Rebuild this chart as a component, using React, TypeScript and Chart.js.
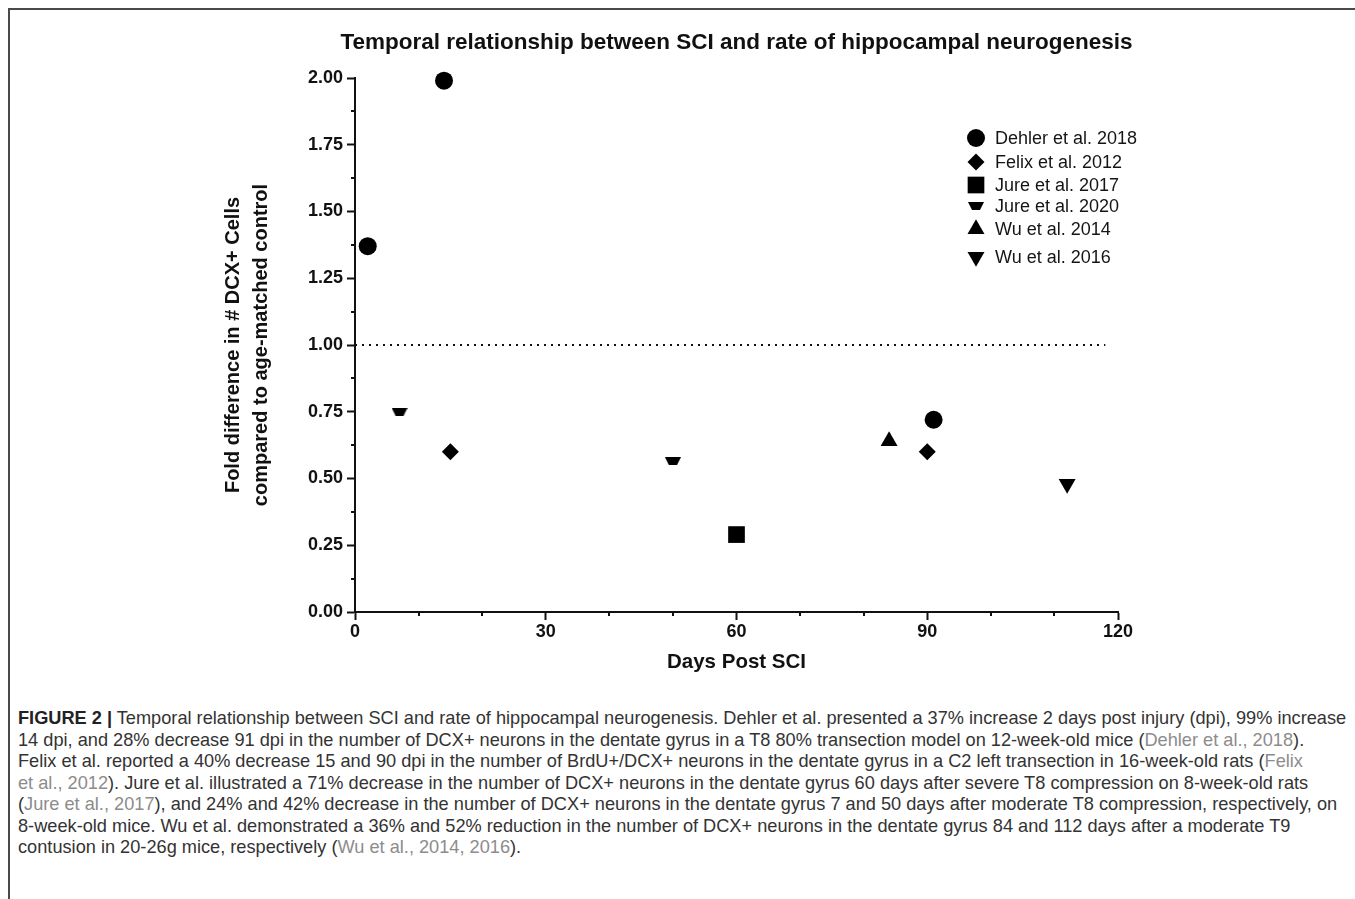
import React, { useEffect, useRef } from 'react';
import { Chart, registerables } from 'chart.js';
import { drawPoint } from 'chart.js/helpers';

Chart.register(...registerables);

const FONT = '"Liberation Sans", Arial, Helvetica, sans-serif';

const chartTitle = 'Temporal relationship between SCI and rate of hippocampal neurogenesis';
const xAxisTitle = 'Days Post SCI';
const yAxisTitle = ['Fold difference in # DCX+ Cells', 'compared to age-matched control'];

const xMajorTicks = [0, 30, 60, 90, 120];
const xMinorTicks = [10, 20, 40, 50, 70, 80, 100, 110];
const yMajorTicks = [0, 0.25, 0.5, 0.75, 1, 1.25, 1.5, 1.75, 2];
const yMinorTicks = [0.125, 0.375, 0.625, 0.875, 1.125, 1.375, 1.625, 1.875];

const seriesLabels = [
  'Dehler et al. 2018',
  'Felix et al. 2012',
  'Jure et al. 2017',
  'Jure et al. 2020',
  'Wu et al. 2014',
  'Wu et al. 2016',
];

const dehler2018Days = [2, 14, 91];
const dehler2018Fold = [1.37, 1.99, 0.72];
const felix2012Days = [15, 90];
const felix2012Fold = [0.6, 0.6];
const jure2017Days = [60];
const jure2017Fold = [0.29];
const jure2020Days = [7, 50];
const jure2020Fold = [0.75, 0.565];
const wu2014Days = [84];
const wu2014Fold = [0.64];
const wu2016Days = [112];
const wu2016Fold = [0.48];

const baselineDays = [0, 118];
const baselineFold = [1, 1];

const toPoints = (xs: number[], ys: number[]) => xs.map((x, i) => ({ x, y: ys[i] }));

function makeTrapezoid(): HTMLCanvasElement {
  const c = document.createElement('canvas');
  c.width = 16;
  c.height = 8;
  const g = c.getContext('2d')!;
  g.fillStyle = '#000';
  g.beginPath();
  g.moveTo(0, 0);
  g.lineTo(16, 0);
  g.lineTo(12, 8);
  g.lineTo(4, 8);
  g.closePath();
  g.fill();
  return c;
}

const minorTicksPlugin = {
  id: 'minorTicks',
  afterDraw(chart: any) {
    const { ctx, chartArea } = chart;
    const x = chart.scales.x;
    const y = chart.scales.y;
    ctx.save();
    ctx.strokeStyle = '#111';
    ctx.lineWidth = 2;
    ctx.beginPath();
    xMinorTicks.forEach((v) => {
      const px = Math.round(x.getPixelForValue(v));
      ctx.moveTo(px, chartArea.bottom);
      ctx.lineTo(px, chartArea.bottom + 4);
    });
    yMinorTicks.forEach((v) => {
      const py = Math.round(y.getPixelForValue(v));
      ctx.moveTo(chartArea.left, py);
      ctx.lineTo(chartArea.left - 4, py);
    });
    ctx.stroke();
    ctx.restore();
  },
};

const legendPlugin = {
  id: 'insetLegend',
  afterDraw(chart: any) {
    const { ctx } = chart;
    const rowY = [138, 162, 185, 206, 229, 257];
    const markerX = 976;
    const textX = 995;
    ctx.save();
    chart.data.datasets.forEach((ds: any, i: number) => {
      if (!seriesLabels.includes(ds.label)) return;
      const y = rowY[i];
      ctx.fillStyle = '#000';
      ctx.strokeStyle = '#000';
      drawPoint(
        ctx,
        { pointStyle: ds.pointStyle, radius: ds.pointRadius, rotation: ds.pointRotation || 0, borderWidth: 0 } as any,
        markerX,
        y
      );
      ctx.fillStyle = '#151515';
      ctx.font = `18px ${FONT}`;
      ctx.textAlign = 'left';
      ctx.textBaseline = 'middle';
      ctx.fillText(ds.label, textX, y + 1);
    });
    ctx.restore();
  },
};

function ScatterChart() {
  const ref = useRef<HTMLCanvasElement | null>(null);
  useEffect(() => {
    if (!ref.current) return;
    const trapezoid = makeTrapezoid();
    const common = { backgroundColor: '#000', borderColor: '#000', borderWidth: 0, clip: false as any };
    const chart = new Chart(ref.current, {
      type: 'scatter',
      data: {
        datasets: [
          { ...common, label: seriesLabels[0], data: toPoints(dehler2018Days, dehler2018Fold), pointStyle: 'circle', pointRadius: 9 },
          { ...common, label: seriesLabels[1], data: toPoints(felix2012Days, felix2012Fold), pointStyle: 'rectRot', pointRadius: 8.5 },
          { ...common, label: seriesLabels[2], data: toPoints(jure2017Days, jure2017Fold), pointStyle: 'rect', pointRadius: 11.8 },
          { ...common, label: seriesLabels[3], data: toPoints(jure2020Days, jure2020Fold), pointStyle: trapezoid as any, pointRadius: 8 },
          { ...common, label: seriesLabels[4], data: toPoints(wu2014Days, wu2014Fold), pointStyle: 'triangle', pointRadius: 9.8 },
          { ...common, label: seriesLabels[5], data: toPoints(wu2016Days, wu2016Fold), pointStyle: 'triangle', pointRadius: 9.8, pointRotation: 180 } as any,
          {
            type: 'line' as any,
            label: 'baseline',
            data: toPoints(baselineDays, baselineFold),
            borderColor: '#111',
            borderWidth: 2,
            borderDash: [2, 5],
            pointRadius: 0,
            showLine: true,
            clip: false as any,
          } as any,
        ],
      },
      options: {
        animation: false,
        responsive: false,
        layout: { padding: { left: 200, right: 82, top: 0, bottom: 0 } },
        plugins: {
          legend: { display: false },
          tooltip: { enabled: false },
          title: {
            display: true,
            text: chartTitle,
            color: '#111',
            font: { family: FONT, size: 22.5, weight: 'bold', lineHeight: 1.2 },
            padding: { top: 29.5, bottom: 21.5 },
          },
        },
        scales: {
          x: {
            type: 'linear',
            min: 0,
            max: 120,
            afterBuildTicks: (s: any) => {
              s.ticks = xMajorTicks.map((v) => ({ value: v }));
            },
            afterFit: (s: any) => {
              s.height = 88;
            },
            ticks: {
              color: '#111',
              font: { family: FONT, size: 18, weight: 'bold' },
              padding: 1,
              maxRotation: 0,
              autoSkip: false,
            },
            grid: { drawOnChartArea: false, drawTicks: true, tickLength: 8, tickWidth: 2, tickColor: '#111' },
            border: { display: true, color: '#111', width: 2 },
            title: {
              display: true,
              text: xAxisTitle,
              color: '#111',
              font: { family: FONT, size: 20.5, weight: 'bold', lineHeight: 1.2 },
              padding: { top: 0, bottom: 25 },
            },
          },
          y: {
            type: 'linear',
            position: 'left',
            min: 0,
            max: 2,
            afterBuildTicks: (s: any) => {
              s.ticks = yMajorTicks.map((v) => ({ value: v }));
            },
            afterFit: (s: any) => {
              s.width = 155;
            },
            ticks: {
              color: '#111',
              font: { family: FONT, size: 18, weight: 'bold' },
              padding: 4,
              callback: (v: any) => Number(v).toFixed(2),
            },
            grid: { drawOnChartArea: false, drawTicks: true, tickLength: 8, tickWidth: 2, tickColor: '#111' },
            border: { display: true, color: '#111', width: 2 },
            title: {
              display: true,
              text: yAxisTitle,
              color: '#111',
              font: { family: FONT, size: 20, weight: 'bold', lineHeight: 1.4 },
              padding: { top: 19, bottom: 0 },
            },
          },
          yRight: {
            type: 'linear',
            position: 'right',
            display: true,
            min: 0,
            max: 2,
            grid: { display: false },
            border: { display: false },
            ticks: { display: false },
            afterFit: (s: any) => {
              s.width = 155;
            },
          },
        },
      } as any,
      plugins: [minorTicksPlugin, legendPlugin],
    });
    return () => chart.destroy();
  }, []);
  return (
    <canvas
      ref={ref}
      width={1355}
      height={700}
      style={{ position: 'absolute', left: 0, top: 0, width: 1355, height: 700 }}
    />
  );
}

const gray = '#8c8c8c';
const Ref = ({ children }: { children: React.ReactNode }) => <span style={{ color: gray }}>{children}</span>;

function Caption() {
  return (
    <div
      style={{
        position: 'absolute',
        left: 18,
        top: 708,
        fontFamily: FONT,
        fontSize: 18.2,
        lineHeight: '21.5px',
        color: '#333',
        whiteSpace: 'nowrap',
      }}
    >
      <div>
        <b style={{ color: '#222' }}>FIGURE 2 |</b> Temporal relationship between SCI and rate of hippocampal neurogenesis.
        Dehler et al. presented a 37% increase 2 days post injury (dpi), 99% increase
      </div>
      <div>
        14 dpi, and 28% decrease 91 dpi in the number of DCX+ neurons in the dentate gyrus in a T8 80% transection model
        on 12-week-old mice (<Ref>Dehler et al., 2018</Ref>).
      </div>
      <div>
        Felix et al. reported a 40% decrease 15 and 90 dpi in the number of BrdU+/DCX+ neurons in the dentate gyrus in a
        C2 left transection in 16-week-old rats (<Ref>Felix</Ref>
      </div>
      <div>
        <Ref>et al., 2012</Ref>). Jure et al. illustrated a 71% decrease in the number of DCX+ neurons in the dentate
        gyrus 60 days after severe T8 compression on 8-week-old rats
      </div>
      <div>
        (<Ref>Jure et al., 2017</Ref>), and 24% and 42% decrease in the number of DCX+ neurons in the dentate gyrus 7 and
        50 days after moderate T8 compression, respectively, on
      </div>
      <div>
        8-week-old mice. Wu et al. demonstrated a 36% and 52% reduction in the number of DCX+ neurons in the dentate
        gyrus 84 and 112 days after a moderate T9
      </div>
      <div>
        contusion in 20-26g mice, respectively (<Ref>Wu et al., 2014, 2016</Ref>).
      </div>
    </div>
  );
}

export default function App() {
  return (
    <div style={{ position: 'absolute', left: 0, top: 0, width: 1355, height: 899, background: '#fff', overflow: 'hidden' }}>
      <div
        style={{
          position: 'absolute',
          left: 8,
          top: 8,
          width: 1347,
          height: 891,
          borderTop: '2px solid #4a4a4a',
          borderLeft: '2px solid #4a4a4a',
          boxSizing: 'border-box',
        }}
      />
      <ScatterChart />
      <Caption />
    </div>
  );
}
